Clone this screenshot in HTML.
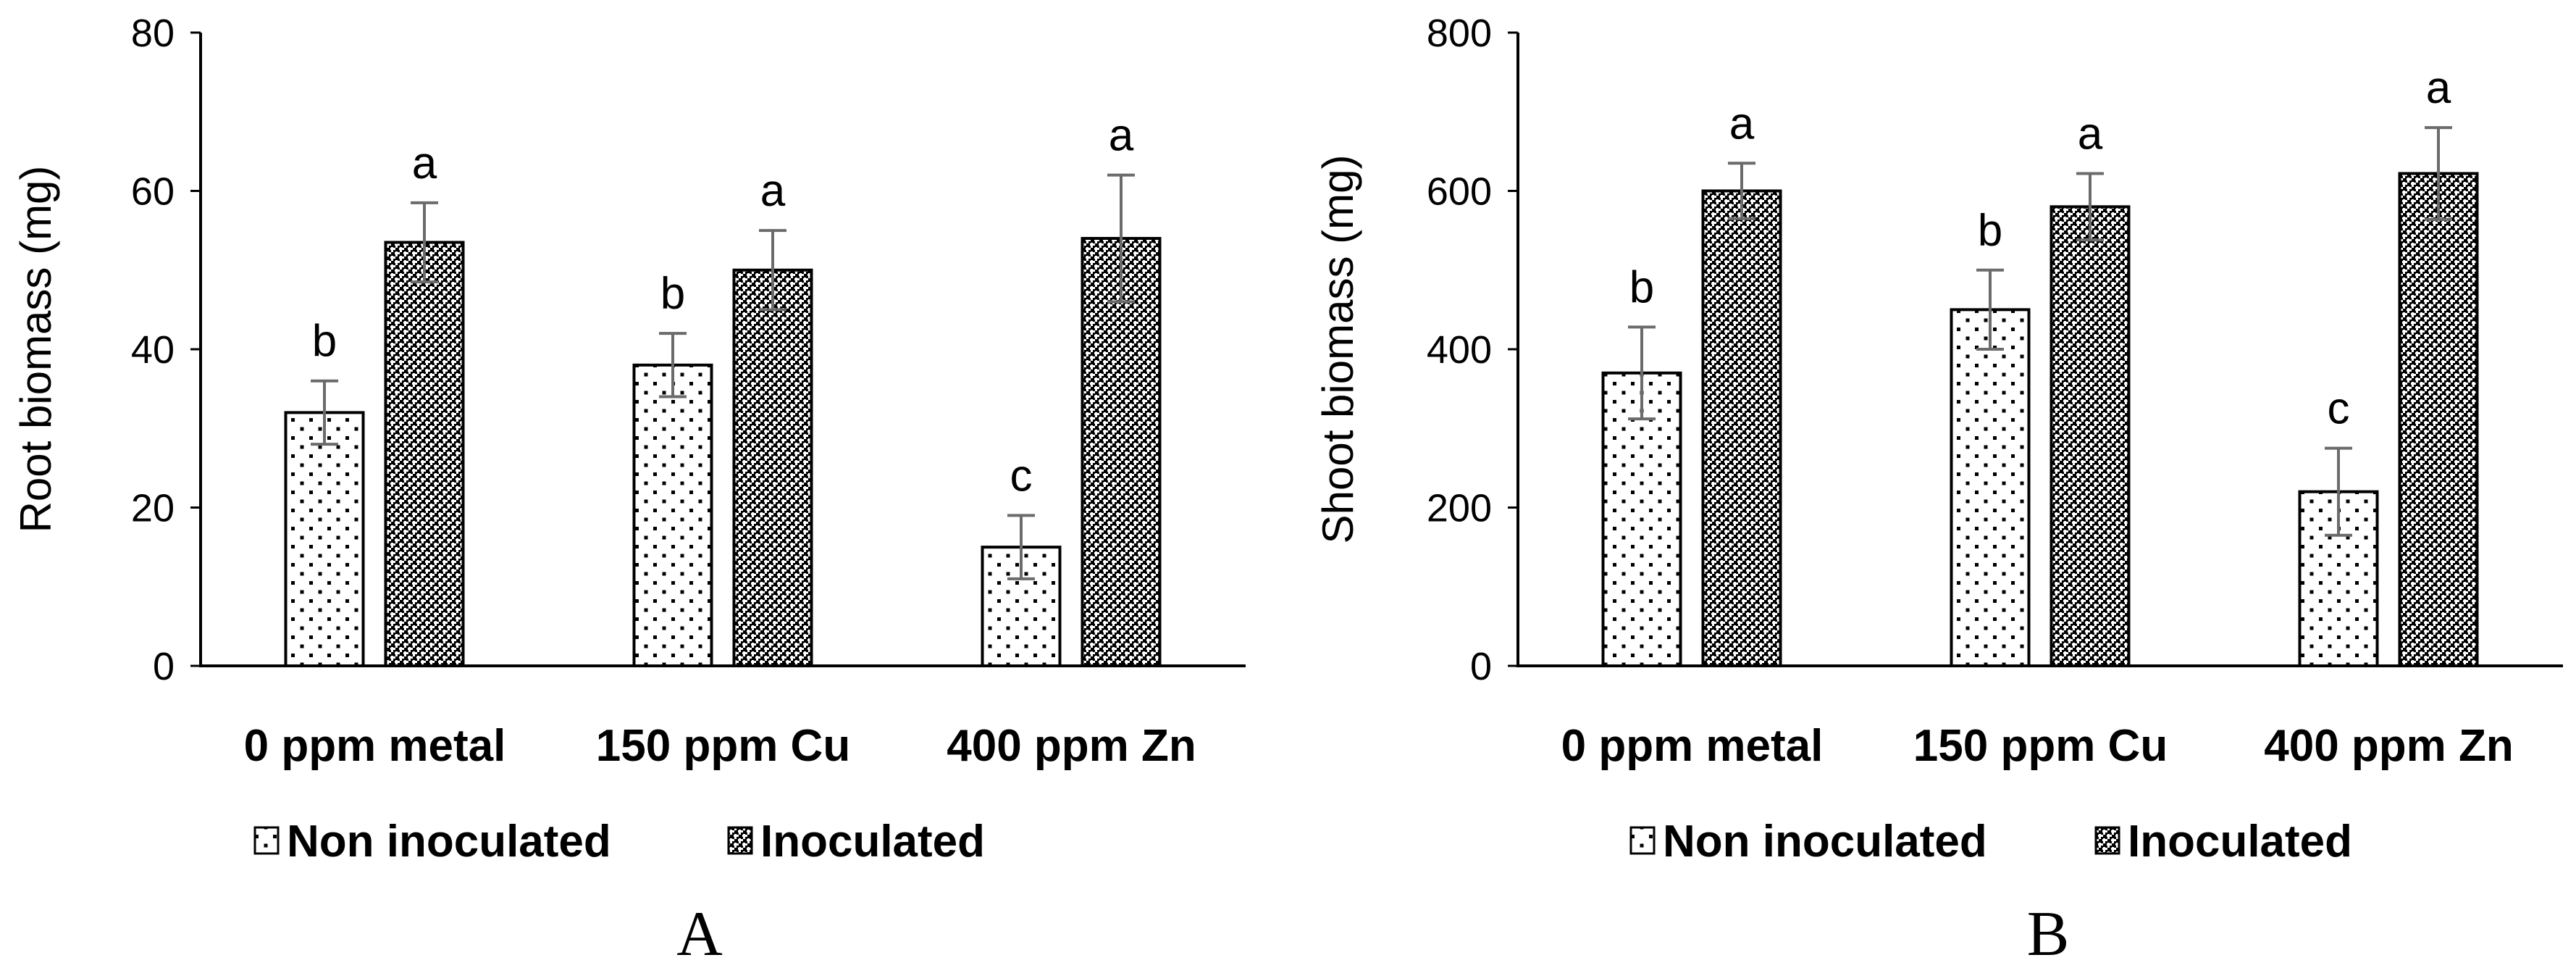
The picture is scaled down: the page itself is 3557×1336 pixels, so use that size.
<!DOCTYPE html>
<html><head><meta charset="utf-8"><style>
html,body{margin:0;padding:0;background:#fff;width:3557px;height:1336px;overflow:hidden}
svg text{font-family:"Liberation Sans",sans-serif}
svg text.serif{font-family:"Liberation Serif",serif}
</style></head><body>
<svg id="svg" width="3557" height="1336" viewBox="0 0 3557 1336" xmlns="http://www.w3.org/2000/svg">
<defs>
<pattern id="dots" width="25" height="25" patternUnits="userSpaceOnUse">
<rect width="25" height="25" fill="#fff"/>
<rect x="2" y="2" width="5" height="5" fill="#000"/>
<rect x="14.5" y="14.5" width="5" height="5" fill="#000"/>
</pattern>
<pattern id="dense" width="12" height="12" patternUnits="userSpaceOnUse">
<rect width="12" height="12" fill="#fff"/>
<rect x="0" y="0" width="5" height="5" fill="#000"/>
<rect x="6" y="6" width="5" height="5" fill="#000"/>
<rect x="3" y="3" width="3" height="3" fill="#000"/>
<rect x="9" y="9" width="3" height="3" fill="#000"/>
<rect x="9" y="3" width="3" height="3" fill="#000"/>
<rect x="3" y="9" width="3" height="3" fill="#000"/>
</pattern>
</defs>
<g id="g"></g>
</svg>
<script>
const cats = ["0 ppm metal","150 ppm Cu","400 ppm Zn"];
const rootNonVals = [32, 38, 15];
const rootInoVals = [53.5, 50, 54];
const rootNonErrs = [4, 4, 4];
const rootInoErrs = [5, 5, 8];
const rootNonLetters = ["b","b","c"];
const rootInoLetters = ["a","a","a"];
const rootTicks = [0, 20, 40, 60, 80];
const shootNonVals = [370, 450, 220];
const shootInoVals = [600, 580, 622];
const shootNonErrs = [58, 50, 55];
const shootInoErrs = [35, 42, 58];
const shootNonLetters = ["b","b","c"];
const shootInoLetters = ["a","a","a"];
const shootTicks = [0, 200, 400, 600, 800];

const NS = "http://www.w3.org/2000/svg";
const g = document.getElementById('g');
function el(tag, attrs, parent, text){
  const e = document.createElementNS(NS, tag);
  for (const k in attrs) e.setAttribute(k, attrs[k]);
  if (text !== undefined) e.textContent = text;
  (parent||g).appendChild(e);
  return e;
}
function chart(o){
  const top=45, zero=919, x0=o.x0, step=481, maxV=o.ticks[o.ticks.length-1];
  const y = v => zero - (v/maxV)*(zero-top);
  const cx = i => x0 + step*(i+0.5);
  const grp = el('g',{});
  
  
  o.ticks.forEach(t=>{
    const tl = el('line',{x1:x0-14,x2:x0,y1:y(t),y2:y(t),stroke:'#000','stroke-width':3},grp);
    
    
    const tx = el('text',{x:x0-36,y:y(t)+19,'font-size':54,'text-anchor':'end',fill:'#000'},grp,String(t));
    
    
  });
  const series = [
    {vals:o.non, errs:o.nonErr, letters:o.nonL, fill:'url(#dots)', off:-123, nm:'non-inoculated'},
    {vals:o.ino, errs:o.inoErr, letters:o.inoL, fill:'url(#dense)', off:15, nm:'inoculated'}
  ];
  series.forEach(s=>{
    s.vals.forEach((v,i)=>{
      const bx = cx(i)+s.off, w=107;
      const r = el('rect',{x:bx,y:y(v),width:w,height:zero-y(v),fill:s.fill,stroke:'#000','stroke-width':4},grp);
      
      
      const mx = bx+w/2, e=s.errs[i];
      const eb = el('path',{d:`M${mx},${y(v+e)}V${y(v-e)}M${mx-19},${y(v+e)}H${mx+19}M${mx-19},${y(v-e)}H${mx+19}`,stroke:'#6b6b6b','stroke-width':4,fill:'none'},grp);
      
      
      const lt = el('text',{x:mx,y:y(v+e)-34,'font-size':62,'text-anchor':'middle',fill:'#000'},grp,s.letters[i]);
      
      
    });
  });
  const ax = el('path',{d:`M${x0},${top}V${zero}H${x0+3*step}`,stroke:'#000','stroke-width':4,fill:'none'},grp);
  
  
  cats.forEach((c,i)=>{
    const t = el('text',{x:cx(i),y:1050,'font-size':62,'font-weight':'bold','text-anchor':'middle',fill:'#000'},grp,c);
    
    
  });
  const yt = el('text',{x:0,y:0,'font-size':60,'text-anchor':'middle',fill:'#000',transform:`translate(${o.titleX},${(top+zero)/2}) rotate(-90)`},grp,o.title);
  
  
  [[o.leg[0],'url(#dots)','Non inoculated'],[o.leg[1],'url(#dense)','Inoculated']].forEach(([lx,f,txt])=>{
    const b = el('rect',{x:lx,y:1142,width:32,height:36,fill:f,stroke:'#000','stroke-width':3},grp);
    
    
    const t = el('text',{x:lx+44,y:1182,'font-size':62,'font-weight':'bold',fill:'#000'},grp,txt);
    
    
  });
  const pl = el('text',{x:o.panelX,y:1318,'font-size':88,'class':'serif','text-anchor':'middle',fill:'#000'},grp,o.panel);
  
  
}
chart({name:'root',x0:277,ticks:rootTicks,non:rootNonVals,ino:rootInoVals,nonErr:rootNonErrs,inoErr:rootInoErrs,nonL:rootNonLetters,inoL:rootInoLetters,title:'Root biomass (mg)',titleX:70,leg:[352,1006],panel:'A',panelX:966});
chart({name:'shoot',x0:2096,ticks:shootTicks,non:shootNonVals,ino:shootInoVals,nonErr:shootNonErrs,inoErr:shootInoErrs,nonL:shootNonLetters,inoL:shootInoLetters,title:'Shoot biomass (mg)',titleX:1868,leg:[2252,2894],panel:'B',panelX:2828});
</script>
</body></html>
